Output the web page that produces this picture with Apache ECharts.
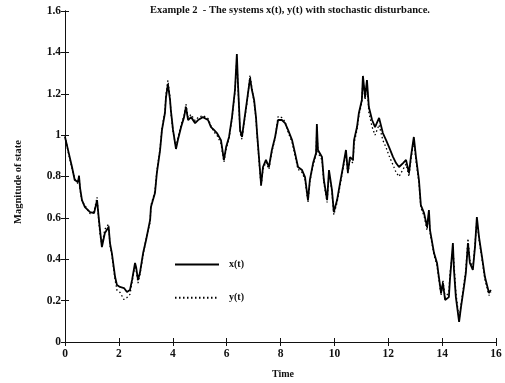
<!DOCTYPE html>
<html>
<head>
<meta charset="utf-8">
<script src="https://cdn.jsdelivr.net/npm/echarts@6/dist/echarts.min.js"></script>
<style>
  html, body { margin: 0; padding: 0; background: #fff; }
  #chart { width: 505px; height: 383px; }
</style>
</head>
<body>
<div id="chart"></div>
<script>
// Sample times of the simulated trajectories
const time = [
  0,0.14,0.26,0.36,0.48,0.52,0.56,0.63,0.74,0.93,
  1.08,1.19,1.25,1.30,1.37,1.48,1.62,1.67,1.74,1.81,
  1.86,1.93,2.04,2.19,2.30,2.41,2.49,2.60,2.64,2.71,
  2.78,2.90,3.01,3.16,3.19,3.34,3.41,3.53,3.60,3.71,
  3.75,3.82,3.90,3.93,4.01,4.12,4.19,4.31,4.42,4.49,
  4.57,4.68,4.83,4.94,5.12,5.31,5.42,5.53,5.64,5.79,
  5.90,5.98,6.09,6.20,6.31,6.38,6.42,6.50,6.57,6.64,
  6.76,6.87,6.94,7.02,7.09,7.13,7.20,7.28,7.35,7.46,
  7.57,7.68,7.80,7.91,8.05,8.17,8.28,8.43,8.54,8.65,
  8.80,8.91,9.02,9.09,9.21,9.32,9.35,9.39,9.54,9.61,
  9.73,9.80,9.91,9.98,10.10,10.21,10.32,10.43,10.50,10.58,
  10.69,10.73,10.84,10.91,11.02,11.06,11.14,11.21,11.28,11.40,
  11.51,11.66,11.80,11.92,12.03,12.18,12.29,12.40,12.55,12.66,
  12.77,12.84,12.95,13.03,13.14,13.21,13.33,13.44,13.51,13.55,
  13.70,13.81,13.88,13.96,14.03,14.11,14.25,14.29,14.40,14.44,
  14.51,14.63,14.70,14.81,14.88,14.96,15.03,15.14,15.22,15.29,
  15.37,15.48,15.59,15.74,15.81
];

// State x(t)
const xState = [
  0.991,0.913,0.846,0.783,0.773,0.802,0.744,0.686,0.652,0.628,
  0.623,0.686,0.604,0.541,0.459,0.527,0.556,0.478,0.430,0.362,
  0.314,0.275,0.266,0.261,0.242,0.251,0.300,0.382,0.362,0.300,
  0.333,0.430,0.493,0.590,0.652,0.720,0.817,0.928,1.025,1.107,
  1.184,1.247,1.170,1.121,1.025,0.933,0.976,1.039,1.087,1.136,
  1.073,1.087,1.058,1.073,1.087,1.073,1.039,1.025,1.010,0.976,
  0.880,0.942,0.991,1.087,1.218,1.392,1.252,1.025,0.991,1.058,
  1.170,1.276,1.218,1.170,1.087,1.010,0.894,0.759,0.846,0.880,
  0.846,0.928,0.991,1.073,1.073,1.058,1.025,0.976,0.913,0.846,
  0.831,0.797,0.686,0.783,0.865,0.913,1.054,0.928,0.894,0.783,
  0.686,0.831,0.735,0.628,0.686,0.768,0.846,0.928,0.822,0.894,
  0.880,0.976,1.039,1.107,1.170,1.286,1.184,1.266,1.136,1.073,
  1.039,1.083,1.010,0.976,0.942,0.894,0.865,0.846,0.865,0.880,
  0.817,0.894,0.991,0.894,0.783,0.662,0.623,0.556,0.638,0.541,
  0.430,0.382,0.314,0.237,0.285,0.203,0.217,0.300,0.478,0.348,
  0.217,0.097,0.169,0.266,0.333,0.478,0.382,0.348,0.459,0.604,
  0.507,0.411,0.314,0.237,0.251
];

// State y(t)
const yState = [
  0.995,0.905,0.840,0.790,0.765,0.810,0.735,0.680,0.660,0.620,
  0.630,0.700,0.590,0.520,0.470,0.545,0.570,0.465,0.420,0.350,
  0.300,0.250,0.240,0.205,0.215,0.230,0.290,0.370,0.350,0.285,
  0.325,0.420,0.500,0.580,0.660,0.730,0.825,0.935,1.035,1.115,
  1.200,1.265,1.180,1.110,1.015,0.945,0.985,1.050,1.095,1.150,
  1.085,1.100,1.070,1.085,1.095,1.080,1.045,1.015,1.000,0.960,
  0.870,0.930,0.985,1.080,1.210,1.370,1.240,1.010,0.980,1.050,
  1.160,1.290,1.225,1.160,1.080,1.000,0.880,0.750,0.835,0.870,
  0.835,0.920,0.985,1.090,1.085,1.065,1.015,0.965,0.900,0.835,
  0.820,0.785,0.675,0.775,0.855,0.905,1.040,0.915,0.880,0.770,
  0.675,0.820,0.725,0.615,0.675,0.755,0.835,0.915,0.810,0.880,
  0.865,0.960,1.025,1.095,1.160,1.270,1.170,1.250,1.110,1.040,
  1.000,1.050,0.975,0.940,0.900,0.855,0.820,0.800,0.835,0.860,
  0.800,0.880,0.975,0.875,0.770,0.650,0.610,0.540,0.625,0.530,
  0.420,0.370,0.300,0.225,0.300,0.215,0.240,0.330,0.450,0.380,
  0.240,0.110,0.180,0.280,0.350,0.500,0.395,0.360,0.470,0.590,
  0.495,0.400,0.300,0.225,0.240
];

const seriesNames = ['x(t)', 'y(t)'];
const titleText = 'Example 2  - The systems x(t), y(t) with stochastic disturbance.';
const xLabel = 'Time';
const yLabel = 'Magnitude of state';

const FONT = '"Liberation Serif", "DejaVu Serif", serif';
const INK = '#111';

const pairs = (ys) => time.map((t, i) => [t, ys[i]]);
const fmt = (v) => String(+v.toFixed(1));

const chart = echarts.init(document.getElementById('chart'), null, { renderer: 'canvas' });

const tickStyle = { show: true, inside: true, length: 4, lineStyle: { color: INK, width: 1 } };
const axisLineStyle = { show: true, lineStyle: { color: INK, width: 1 } };

chart.setOption({
  animation: false,
  backgroundColor: '#fff',
  title: {
    text: titleText,
    left: 285, top: 0,
    textAlign: 'center',
    textStyle: { fontFamily: FONT, fontSize: 10.5, fontWeight: 'bold', color: INK }
  },
  grid: { left: 65, right: 9, top: 11, bottom: 41 },
  legend: {
    show: true,
    orient: 'vertical',
    left: 169, top: 254,
    itemWidth: 44, itemHeight: 14, itemGap: 22,
    data: seriesNames,
    // plain line samples, no marker in the middle
    itemStyle: { color: 'rgba(0,0,0,0)', borderColor: 'rgba(0,0,0,0)', borderWidth: 0 },
    textStyle: { fontFamily: FONT, fontSize: 10, fontWeight: 'bold', color: INK, padding: [0, 0, 0, 5] }
  },
  xAxis: [
    {
      type: 'value', min: 0, max: 16, interval: 2,
      axisLine: axisLineStyle, axisTick: tickStyle, splitLine: { show: false },
      axisLabel: { fontFamily: FONT, fontSize: 11.5, fontWeight: 'bold', color: INK, margin: 6, formatter: fmt }
    },
    {
      type: 'value', position: 'top', min: 0, max: 16, interval: 2,
      axisLine: axisLineStyle, axisTick: tickStyle, splitLine: { show: false },
      axisLabel: { show: false }
    }
  ],
  yAxis: [
    {
      type: 'value', min: 0, max: 1.6, interval: 0.2,
      axisLine: axisLineStyle, axisTick: tickStyle, splitLine: { show: false },
      axisLabel: { fontFamily: FONT, fontSize: 11.5, fontWeight: 'bold', color: INK, margin: 4, formatter: fmt }
    },
    {
      type: 'value', position: 'right', min: 0, max: 1.6, interval: 0.2,
      axisLine: axisLineStyle, axisTick: tickStyle, splitLine: { show: false },
      axisLabel: { show: false }
    }
  ],
  graphic: [
    {
      type: 'text', left: 272, top: 369,
      style: { text: xLabel, font: 'bold 10px ' + FONT, fill: INK }
    },
    {
      type: 'text', x: 18, y: 182, rotation: Math.PI / 2,
      style: { text: yLabel, font: 'bold 10.5px ' + FONT, fill: INK, align: 'center', verticalAlign: 'middle' }
    }
  ],
  series: [
    {
      name: seriesNames[0], type: 'line', data: pairs(xState),
      showSymbol: false, symbol: 'none',
      lineStyle: { color: '#000', width: 1.8 },
      itemStyle: { color: '#000' }
    },
    {
      name: seriesNames[1], type: 'line', data: pairs(yState),
      showSymbol: false, symbol: 'none',
      lineStyle: { color: '#000', width: 1.3, type: [1.5, 2.5] },
      itemStyle: { color: '#000' }
    }
  ]
});
</script>
</body>
</html>
